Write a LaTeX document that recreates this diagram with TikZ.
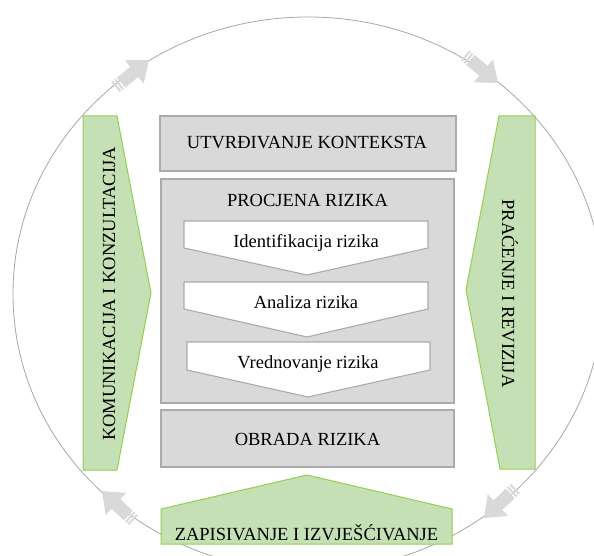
\documentclass[tikz,border=0pt]{standalone}
\usepackage{fontspec}
\setmainfont{Liberation Serif}
\definecolor{boxgray}{HTML}{D9D9D9}
\definecolor{boxline}{HTML}{ABABAB}
\definecolor{greenfill}{HTML}{C5E0B4}
\definecolor{greenline}{HTML}{92D050}
\definecolor{ringline}{HTML}{A6A6A6}
\definecolor{arrowgray}{HTML}{D9D9D9}
\tikzset{
  cycarrow/.pic={
    \fill[arrowgray] (0,0) -- (-19,15) -- (-19,6.5) -- (-36,6.5) -- (-36,-6.5) -- (-19,-6.5) -- (-19,-15) -- cycle;
    \fill[arrowgray] (-37.5,-6.5) rectangle (-39.5,6.5);
    \fill[arrowgray] (-41,-6.5) rectangle (-43,6.5);
  }
}
\begin{document}
\begin{tikzpicture}[x=1pt,y=-1pt,
  graybox/.style={draw=boxline, fill=boxgray, line width=1.3pt},
  chevbox/.style={draw=boxline, fill=white, line width=1.1pt},
  greenshape/.style={draw=greenline, fill=greenfill, line width=1pt},
  lbl/.style={font=\fontsize{18.5}{22}\selectfont, inner sep=0pt, anchor=base},
  ring/.style={draw=ringline, line width=0.8pt}
]
\useasboundingbox (0,0) rectangle (594,556);

% ring
\draw[ring] (308,294) ellipse [x radius=295, y radius=277];

% cycle arrows
\path (149,60) pic[rotate=39] {cycarrow};
\path (498,83) pic[rotate=-40] {cycarrow};
\path (484,518) pic[rotate=-137] {cycarrow};
\path (102,491) pic[rotate=137] {cycarrow};

% gray boxes
\draw[graybox] (160,116) rectangle (456,171);
\draw[graybox] (161,179) rectangle (454,403);
\draw[graybox] (161,410) rectangle (454,467);

% chevrons
\draw[chevbox] (184,221) -- (428,221) -- (428,248) -- (307,275) -- (184,248) -- cycle;
\draw[chevbox] (184,282) -- (428,282) -- (428,309) -- (307,337) -- (184,309) -- cycle;
\draw[chevbox] (187,342) -- (430,342) -- (430,370) -- (308,397) -- (187,370) -- cycle;

% green shapes
\draw[greenshape] (83,116) -- (117,116) -- (151,293) -- (117,470) -- (83,470) -- cycle;
\draw[greenshape] (535,116) -- (499,116) -- (466,290) -- (500,469) -- (535,469) -- cycle;
\draw[greenshape] (161,544) -- (161,509) -- (307,475) -- (452,509) -- (452,544) -- cycle;

% labels
\node[lbl] (ctx) at (307,149) {UTVRĐIVANJE KONTEKSTA};
\node[lbl] (proc) at (307.5,207) {PROCJENA RIZIKA};
\node[lbl] (ident) at (306,247) {Identifikacija rizika};
\node[lbl] (anal) at (306,308) {Analiza rizika};
\node[lbl] (vred) at (308,368) {Vrednovanje rizika};
\node[lbl] (obr) at (307.5,445) {OBRADA RIZIKA};
\node[lbl] (zap) at (306.5,540) {ZAPISIVANJE I IZVJEŠĆIVANJE};
\node[lbl, rotate=90] (kom) at (115,294) {KOMUNIKACIJA I KONZULTACIJA};
\node[lbl, rotate=-90] (pra) at (502,293.5) {PRAĆENJE I REVIZIJA};
\end{tikzpicture}
\end{document}
